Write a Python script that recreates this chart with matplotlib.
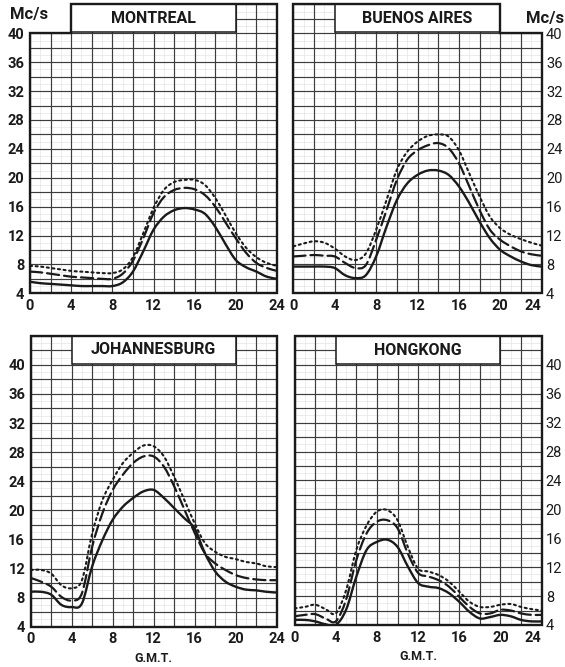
import matplotlib
matplotlib.use("Agg")
import matplotlib.pyplot as plt
from matplotlib.patches import Rectangle, Polygon, PathPatch
from matplotlib.path import Path

plt.rcParams['font.family'] = ['Roboto', 'DejaVu Sans']

hours = list(range(25))
x_ticks = [0, 4, 8, 12, 16, 20, 24]
y_ticks = [4, 8, 12, 16, 20, 24, 28, 32, 36, 40]

cities = ["MONTREAL", "BUENOS AIRES", "JOHANNESBURG", "HONGKONG"]

montreal_solid = [5.6, 5.4, 5.3, 5.2, 5.1, 5.0, 5.0, 5.0, 5.0, 5.5, 7.0, 9.8, 12.8, 14.6, 15.5, 15.8, 15.6, 15.0, 13.2, 10.8, 8.6, 7.6, 7.0, 6.3, 6.0]
montreal_dashed = [7.0, 6.9, 6.7, 6.5, 6.3, 6.2, 6.1, 6.0, 6.0, 6.7, 8.5, 11.6, 15.1, 17.3, 18.3, 18.6, 18.4, 17.6, 16.0, 13.8, 11.6, 9.6, 8.2, 7.5, 7.1]
montreal_dotted = [7.8, 7.7, 7.5, 7.3, 7.1, 7.0, 6.9, 6.8, 6.8, 7.3, 9.0, 12.3, 15.8, 18.3, 19.4, 19.7, 19.7, 19.0, 17.2, 14.8, 12.3, 10.3, 9.0, 8.2, 7.8]

buenos_solid = [7.7, 7.7, 7.7, 7.7, 7.5, 6.5, 6.1, 6.5, 9.1, 13.2, 16.9, 19.2, 20.4, 21.0, 21.0, 20.4, 18.8, 16.5, 13.9, 11.6, 10.0, 9.1, 8.4, 7.9, 7.7]
buenos_dashed = [9.1, 9.2, 9.3, 9.2, 9.1, 8.2, 7.5, 7.9, 11.4, 15.5, 19.7, 22.5, 23.8, 24.5, 24.8, 24.1, 22.0, 18.8, 15.5, 12.8, 11.4, 10.5, 9.8, 9.4, 9.2]
buenos_dotted = [10.5, 10.9, 11.2, 11.0, 10.2, 9.1, 8.6, 9.5, 12.8, 16.9, 21.1, 23.6, 25.0, 25.8, 26.0, 25.7, 23.8, 20.6, 17.4, 14.6, 13.0, 12.1, 11.5, 11.0, 10.6]

joburg_solid = [8.8, 8.8, 8.4, 7.0, 6.7, 7.2, 12.3, 15.9, 18.7, 20.5, 21.7, 22.6, 22.8, 21.7, 20.3, 18.9, 17.5, 14.1, 11.6, 10.2, 9.5, 9.1, 9.0, 8.8, 8.7]
joburg_dashed = [10.7, 10.2, 9.5, 8.1, 7.6, 8.6, 15.0, 19.6, 22.8, 24.9, 26.5, 27.4, 27.4, 26.0, 23.3, 20.1, 16.9, 14.1, 12.7, 11.8, 11.1, 10.7, 10.5, 10.4, 10.4]
joburg_dotted = [11.8, 11.8, 11.3, 9.7, 9.3, 10.4, 16.8, 21.4, 24.2, 26.5, 27.9, 28.9, 28.8, 27.4, 24.6, 21.4, 18.2, 15.5, 14.3, 13.6, 13.3, 12.9, 12.7, 12.3, 12.2]

hongkong_solid = [4.7, 4.7, 4.5, 4.1, 4.0, 6.1, 10.7, 14.4, 15.5, 15.8, 14.8, 12.1, 9.8, 9.3, 9.1, 8.4, 7.2, 5.8, 4.9, 5.1, 5.4, 5.2, 4.7, 4.5, 4.5]
hongkong_dashed = [5.2, 5.4, 5.5, 4.9, 4.5, 7.5, 13.0, 16.7, 18.3, 18.5, 17.4, 13.9, 11.2, 10.7, 10.2, 9.3, 7.9, 6.5, 5.6, 5.6, 6.1, 6.0, 5.6, 5.4, 5.4]
hongkong_dotted = [6.3, 6.5, 6.8, 6.2, 5.6, 8.8, 14.4, 17.8, 19.7, 19.9, 18.5, 14.8, 11.8, 11.4, 10.9, 10.0, 8.6, 7.2, 6.5, 6.5, 6.8, 6.9, 6.5, 6.2, 6.0]

series = [
    (montreal_solid, montreal_dashed, montreal_dotted),
    (buenos_solid, buenos_dashed, buenos_dotted),
    (joburg_solid, joburg_dashed, joburg_dotted),
    (hongkong_solid, hongkong_dashed, hongkong_dotted),
]

positions = [
    [0.0531, 0.5603, 0.4372, 0.4330],
    [0.5192, 0.5603, 0.4396, 0.4330],
    [0.0543, 0.0604, 0.4354, 0.4363],
    [0.5214, 0.0630, 0.4373, 0.4333],
]

INK = "#1a1a1a"


def smooth_path(xs, ys):
    """Catmull-Rom curve through the read points, drawn as Bezier segments."""
    verts = [(xs[0], ys[0])]
    codes = [Path.MOVETO]
    n = len(xs)
    for k in range(n - 1):
        x0, y0 = (xs[k - 1], ys[k - 1]) if k > 0 else (xs[k], ys[k])
        x1, y1 = xs[k], ys[k]
        x2, y2 = xs[k + 1], ys[k + 1]
        x3, y3 = (xs[k + 2], ys[k + 2]) if k + 2 < n else (xs[k + 1], ys[k + 1])
        c1 = (x1 + (x2 - x0) / 6.0, y1 + (y2 - y0) / 6.0)
        c2 = (x2 - (x3 - x1) / 6.0, y2 - (y3 - y1) / 6.0)
        verts += [c1, c2, (x2, y2)]
        codes += [Path.CURVE4] * 3
    return Path(verts, codes)


fig = plt.figure(figsize=(5.65, 6.67), dpi=100)
fig.patch.set_facecolor("white")

for i, (name, (s, d, t), pos) in enumerate(zip(cities, series, positions)):
    ax = fig.add_axes(pos)
    ax.set_xlim(0, 24)
    ax.set_ylim(4, 44)
    for sp in ax.spines.values():
        sp.set_visible(False)
    ax.set_facecolor("none")

    # grid
    for v in range(4, 45):
        if v % 2 == 1:
            ax.plot([0, 24], [v, v], color="#e4e4e4", lw=0.5, zorder=1)
        else:
            ax.plot([0, 24], [v, v], color="#3c3c3c", lw=0.85, zorder=1.2)
    for h in range(0, 25):
        if h % 2 == 1:
            ax.plot([h, h], [4, 44], color="#e4e4e4", lw=0.5, zorder=1)
        else:
            ax.plot([h, h], [4, 44], color="#3c3c3c", lw=0.85, zorder=1.2)

    # blank corners and outline
    if i == 0:
        ax.add_patch(Rectangle((-0.5, 40), 4.5, 5, facecolor="white", edgecolor="none", zorder=2, clip_on=False))
        outline = [(0, 4), (24, 4), (24, 44), (4, 44), (4, 40), (0, 40)]
    elif i == 1:
        ax.add_patch(Rectangle((20, 40), 4.5, 5, facecolor="white", edgecolor="none", zorder=2, clip_on=False))
        outline = [(0, 4), (24, 4), (24, 40), (20, 40), (20, 44), (0, 44)]
    else:
        outline = [(0, 4), (24, 4), (24, 44), (0, 44)]
    ax.add_patch(Polygon(outline, closed=True, fill=False, edgecolor=INK, lw=1.7,
                         zorder=4, clip_on=False, joinstyle="miter"))

    # title box
    ax.add_patch(Rectangle((4, 40.15), 16, 3.85, facecolor="white", edgecolor=INK,
                           lw=1.1, zorder=3))
    ax.text(12, 42.05, name, ha="center", va="center", fontsize=11.5,
            fontweight="bold", color=INK, zorder=5)

    # curves
    styles = [dict(ls="-", lw=1.7), dict(ls=(0, (5.5, 2.2)), lw=1.6), dict(ls=(0, (1, 1.7)), lw=1.5)]
    for vals, st in zip((s, d, t), styles):
        ax.add_patch(PathPatch(smooth_path(hours, vals), fill=False, edgecolor=INK,
                               linestyle=st["ls"], lw=st["lw"], zorder=6,
                               capstyle="round"))

    ax.set_xticks(x_ticks)
    ax.set_xticklabels([str(v) for v in x_ticks])
    ax.set_yticks(y_ticks)
    ax.set_yticklabels([str(v) for v in y_ticks])
    ax.tick_params(axis="x", length=0, labelsize=10.5, colors=INK, pad=4)
    ax.tick_params(axis="y", length=0, labelsize=10.5, colors=INK, pad=4)
    for lab in ax.get_xticklabels() + ax.get_yticklabels():
        lab.set_fontweight("bold")
    if i in (1, 3):
        ax.yaxis.tick_right()
        ax.tick_params(axis="y", length=0, pad=3)
        xl = ax.get_xticklabels()
        xl[-1].set_horizontalalignment("right")
    if i in (2, 3):
        ax.set_xlabel("G.M.T.", fontsize=9, fontweight="bold", color=INK, labelpad=4)

fig.text(29 / 565, 1 - 15 / 667, "Mc/s", ha="center", va="center", fontsize=12,
         fontweight="bold", color=INK)
fig.text(545 / 565, 1 - 19 / 667, "Mc/s", ha="center", va="center", fontsize=12,
         fontweight="bold", color=INK)

fig.savefig("out.png", dpi=100, facecolor="white")
